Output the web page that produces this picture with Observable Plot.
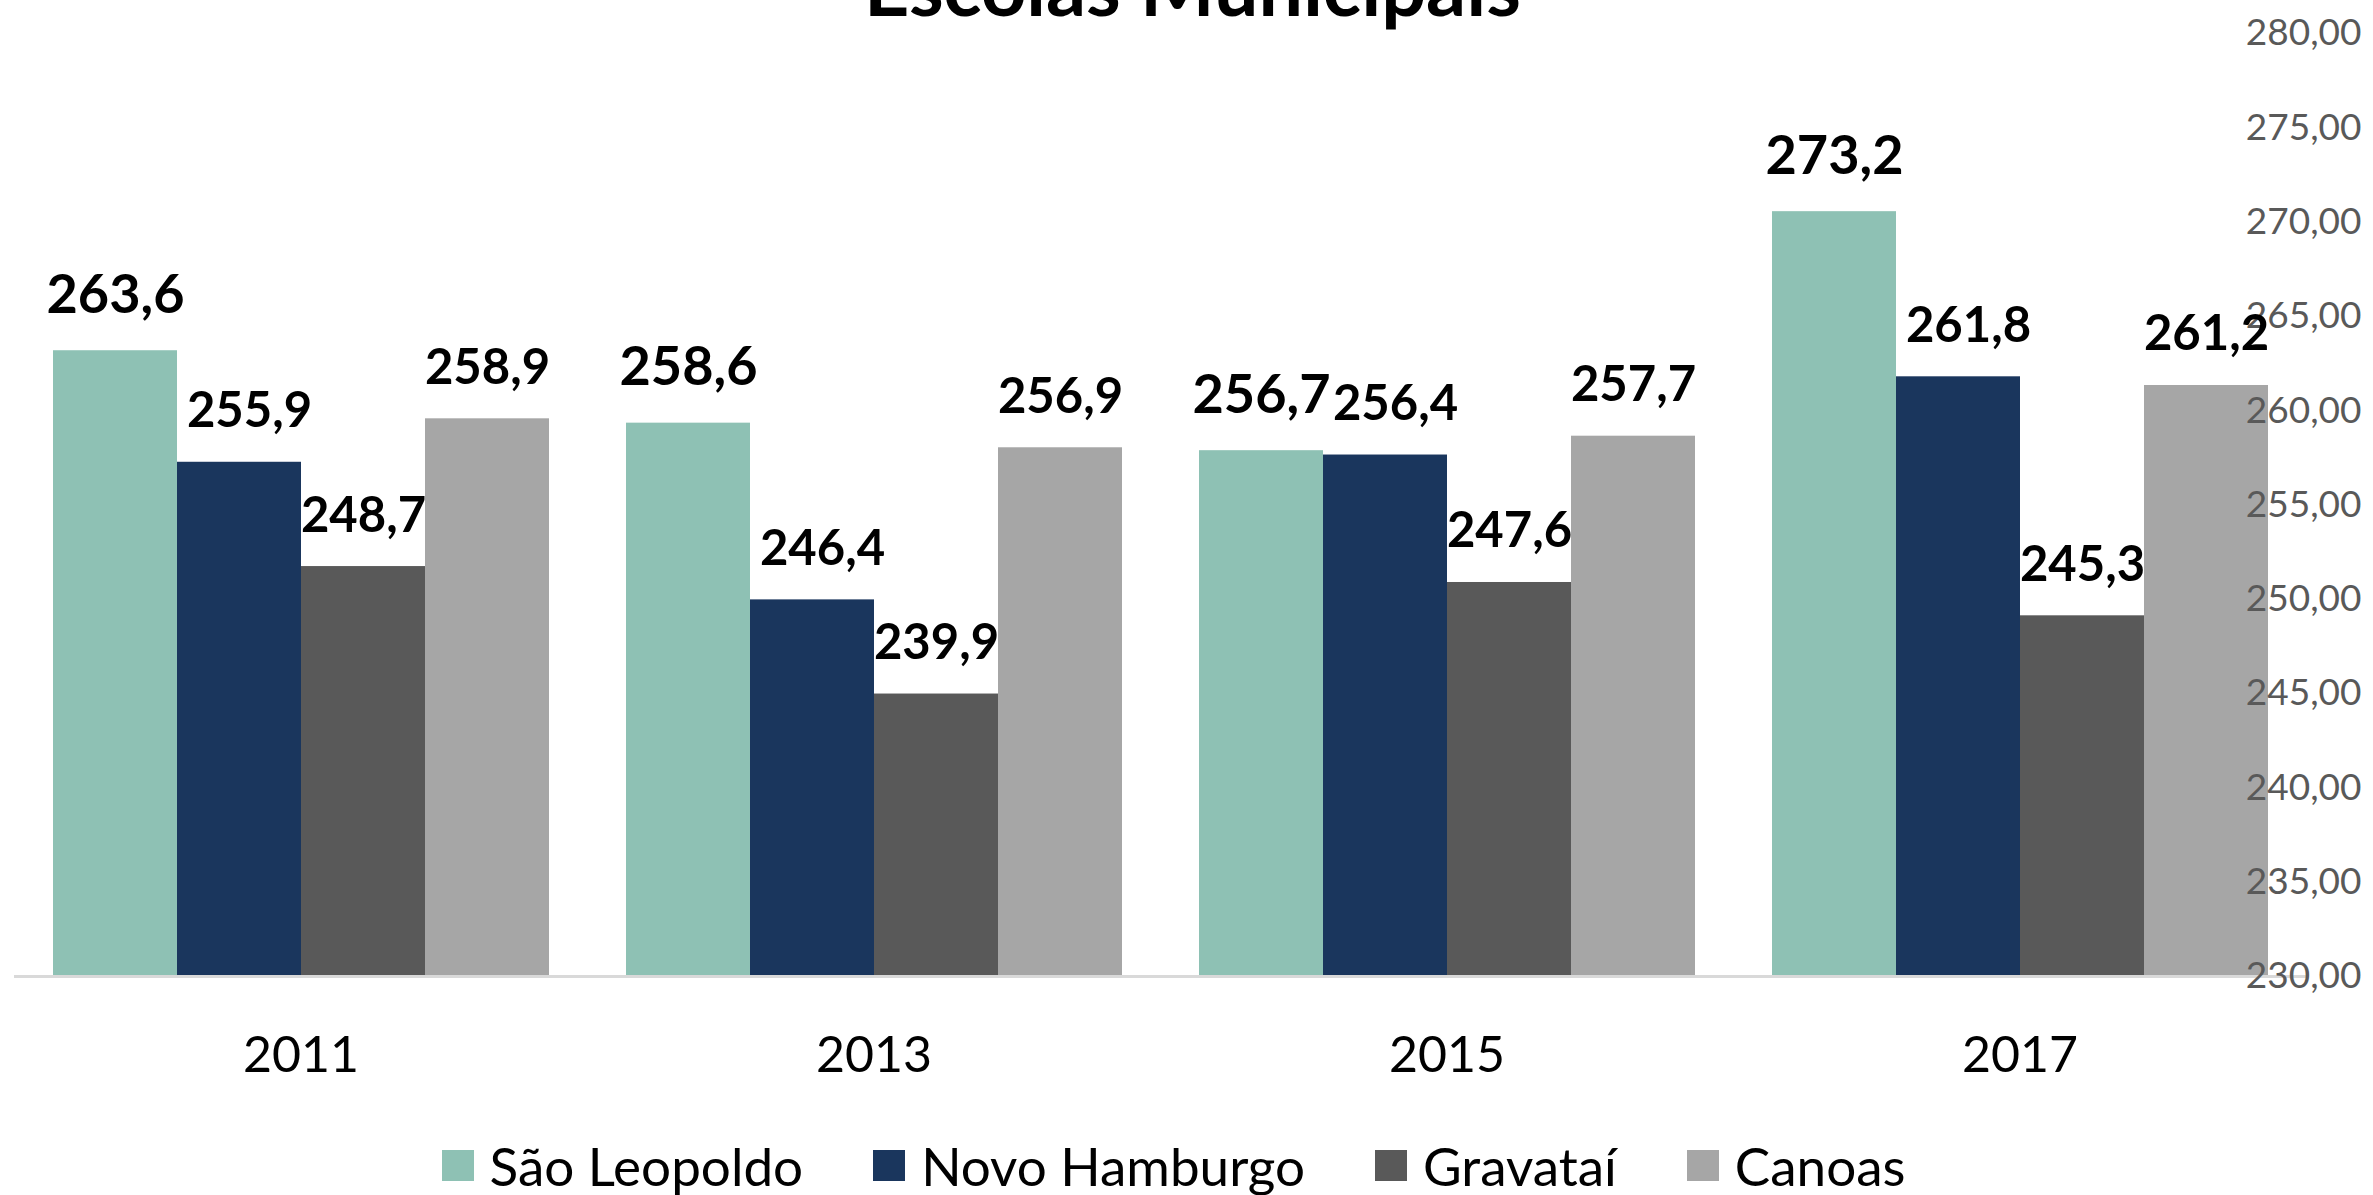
<!DOCTYPE html>
<html><head><meta charset="utf-8">
<script src="https://cdn.jsdelivr.net/npm/d3@7"></script>
<script src="https://cdn.jsdelivr.net/npm/@observablehq/plot@0.6"></script>
<style>
html,body{margin:0;padding:0;background:#fff;width:2373px;height:1195px;overflow:hidden;font-family:Lato,sans-serif}
#wrap{position:relative;width:2373px;height:1195px}
#chart svg{display:block}
#title{position:absolute;left:0;width:2373px;top:-54px;text-align:center;font:bold 79px/1 Lato,sans-serif;color:#000;padding-left:12px;box-sizing:border-box;white-space:nowrap}
#legend{display:flex;justify-content:center;align-items:center;margin-top:24px;padding-right:26px;font-size:53px;line-height:1.2;color:#000}
.item{display:flex;align-items:center;margin:0 35px}
.sw{width:32px;height:31px;margin-right:16px}
</style></head>
<body><div id="wrap"><div id="chart"></div><div id="legend"></div><div id="title">Escolas Municipais</div></div>
<script>
const years = ["2011", "2013", "2015", "2017"];
const cities = ["São Leopoldo", "Novo Hamburgo", "Gravataí", "Canoas"];
const saoLeopoldo = [263.6, 258.6, 256.7, 273.2];
const novoHamburgo = [255.9, 246.4, 256.4, 261.8];
const gravatai = [248.7, 239.9, 247.6, 245.3];
const canoas = [258.9, 256.9, 257.7, 261.2];
const colors = ["#8EC1B4", "#1A365D", "#595959", "#A6A6A6"];
const barDomain = [220.4, 285.5];      // hidden primary axis of the bars
const axisDomain = [230, 280];         // visible secondary axis (right)
const axisLabels = [230, 235, 240, 245, 250, 255, 260, 265, 270, 275, 280];

const series = [saoLeopoldo, novoHamburgo, gravatai, canoas];
const data = [];
years.forEach((yr, i) => cities.forEach((c, j) => data.push({year: yr, city: c, value: series[j][i]})));

const k = (barDomain[1] - barDomain[0]) / (axisDomain[1] - axisDomain[0]);
const toBar = s => barDomain[0] + (s - axisDomain[0]) * k;
const fromBar = p => axisDomain[0] + (p - barDomain[0]) / k;
const fmt1 = v => v.toFixed(1).replace(".", ",");
const fmt2 = v => (Math.round(v * 100) / 100).toFixed(2).replace(".", ",");

const chart = Plot.plot({
  width: 2373, height: 1110,
  marginTop: 33, marginBottom: 134, marginLeft: 13, marginRight: 65,
  style: {fontFamily: "Lato, sans-serif", background: "#fff"},
  fx: {domain: years, paddingInner: 0.132, paddingOuter: 0.066, label: null},
  x: {domain: cities, padding: 0, axis: null},
  y: {domain: barDomain, label: null},
  color: {domain: cities, range: colors},
  marks: [
    Plot.barY(data, {fx: "year", x: "city", y: "value", fill: "city", clip: true}),
    Plot.ruleY([barDomain[0]], {stroke: "#d9d9d9", strokeWidth: 3, insetLeft: -38, insetRight: -38}),
    Plot.axisFx({anchor: "bottom", tickSize: 0, tickPadding: 60, fontSize: 50, color: "#000", label: null}),
    Plot.axisY(axisLabels.map(toBar), {anchor: "right", tickSize: 0, tickPadding: 93, textAnchor: "end",
      fontSize: 37, color: "#595959", tickFormat: p => fmt2(fromBar(p)), label: null}),
    Plot.text(data.filter(d => d.city === cities[0]), {fx: "year", x: "city", y: "value", text: d => fmt1(d.value),
      lineAnchor: "bottom", dy: -38, fontSize: 54, fontWeight: "bold", fill: "#000"}),
    Plot.text(data.filter(d => d.city === cities[1]), {fx: "year", x: "city", y: "value", text: d => fmt1(d.value),
      lineAnchor: "bottom", dy: -35, dx: 10, fontSize: 49, fontWeight: "bold", fill: "#000"}),
    Plot.text(data.filter(d => d.city === cities[2] || d.city === cities[3]), {fx: "year", x: "city", y: "value", text: d => fmt1(d.value),
      lineAnchor: "bottom", dy: -35, fontSize: 49, fontWeight: "bold", fill: "#000"})
  ]
});
document.getElementById("chart").appendChild(chart);

const legend = document.getElementById("legend");
cities.forEach((c, i) => {
  const item = document.createElement("div");
  item.className = "item";
  const sw = document.createElement("div");
  sw.className = "sw";
  sw.style.background = colors[i];
  const t = document.createElement("span");
  t.textContent = c;
  item.appendChild(sw); item.appendChild(t);
  legend.appendChild(item);
});
</script>
</body></html>
